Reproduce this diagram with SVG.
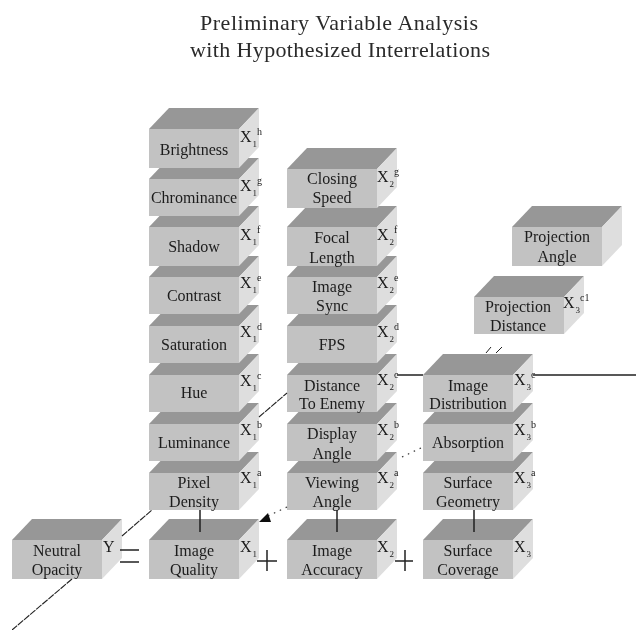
<svg xmlns="http://www.w3.org/2000/svg" xmlns:xlink="http://www.w3.org/1999/xlink" width="636" height="635" viewBox="0 0 636 635">
<style>
text{font-family:"Liberation Serif","Times New Roman",serif;fill:#1c1c1c}
.l{font-size:16px;text-anchor:middle}
.t{font-size:22px;text-anchor:middle;fill:#2a2a2a}
.x{font-size:16px}
.sub{font-size:9px}
.sup{font-size:10px}
.op{stroke:#222;stroke-width:1.5;fill:none}
.dash{stroke:#222;stroke-width:1.1;fill:none;stroke-dasharray:7 1}
.dot{stroke:#333;stroke-width:1.2;fill:none;stroke-dasharray:1.5 5}
.ln{stroke:#222;stroke-width:1.5;fill:none}
.sl{stroke:#222;stroke-width:1;fill:none}
.f{fill:#c2c2c2}.d{fill:#979797}.s{fill:#dedede}
</style>
<defs>
<g id="a"><rect class="f" width="90" height="37"/><polygon class="d" points="0,0 20,-21 110,-21 90,0"/><polygon class="s" points="90,0 110,-21 110,16 90,37"/></g>
<g id="b"><rect class="f" width="90" height="39"/><polygon class="d" points="0,0 20,-21 110,-21 90,0"/><polygon class="s" points="90,0 110,-21 110,18 90,39"/></g>
<filter id="soft" x="0" y="0" width="100%" height="100%"><feGaussianBlur stdDeviation="0.35"/></filter>
</defs>
<rect width="636" height="635" fill="#fff"/>
<g filter="url(#soft)">
<text class="t" x="339" y="30" textLength="278" lengthAdjust="spacing">Preliminary Variable Analysis</text>
<text class="t" x="340" y="57" textLength="300" lengthAdjust="spacing">with Hypothesized Interrelations</text>

<g id="pixel-density"><use xlink:href="#a" x="149" y="473"/><text class="l" x="194" y="488">Pixel</text><text class="l" x="194" y="507">Density</text><text class="x" x="240" y="483">X<tspan class="sub" dx="1" dy="5">1</tspan><tspan class="sup" dy="-12">a</tspan></text></g>
<g id="luminance"><use xlink:href="#a" x="149" y="424"/><text class="l" x="194" y="448">Luminance</text><text class="x" x="240" y="435">X<tspan class="sub" dx="1" dy="5">1</tspan><tspan class="sup" dy="-12">b</tspan></text></g>
<g id="hue"><use xlink:href="#a" x="149" y="375"/><text class="l" x="194" y="398">Hue</text><text class="x" x="240" y="386">X<tspan class="sub" dx="1" dy="5">1</tspan><tspan class="sup" dy="-12">c</tspan></text></g>
<g id="saturation"><use xlink:href="#a" x="149" y="326"/><text class="l" x="194" y="350">Saturation</text><text class="x" x="240" y="337">X<tspan class="sub" dx="1" dy="5">1</tspan><tspan class="sup" dy="-12">d</tspan></text></g>
<g id="contrast"><use xlink:href="#a" x="149" y="277"/><text class="l" x="194" y="301">Contrast</text><text class="x" x="240" y="288">X<tspan class="sub" dx="1" dy="5">1</tspan><tspan class="sup" dy="-12">e</tspan></text></g>
<g id="shadow"><use xlink:href="#b" x="149" y="227"/><text class="l" x="194" y="252">Shadow</text><text class="x" x="240" y="240">X<tspan class="sub" dx="1" dy="5">1</tspan><tspan class="sup" dy="-12">f</tspan></text></g>
<g id="chrominance"><use xlink:href="#a" x="149" y="179"/><text class="l" x="194" y="203">Chrominance</text><text class="x" x="240" y="191">X<tspan class="sub" dx="1" dy="5">1</tspan><tspan class="sup" dy="-12">g</tspan></text></g>
<g id="brightness"><use xlink:href="#b" x="149" y="129"/><text class="l" x="194" y="155">Brightness</text><text class="x" x="240" y="142">X<tspan class="sub" dx="1" dy="5">1</tspan><tspan class="sup" dy="-12">h</tspan></text></g>

<g id="viewing-angle"><use xlink:href="#a" x="287" y="473"/><text class="l" x="332" y="488">Viewing</text><text class="l" x="332" y="507">Angle</text><text class="x" x="377" y="483">X<tspan class="sub" dx="1" dy="5">2</tspan><tspan class="sup" dy="-12">a</tspan></text></g>
<g id="display-angle"><use xlink:href="#a" x="287" y="424"/><text class="l" x="332" y="439">Display</text><text class="l" x="332" y="459">Angle</text><text class="x" x="377" y="435">X<tspan class="sub" dx="1" dy="5">2</tspan><tspan class="sup" dy="-12">b</tspan></text></g>
<g id="distance-to-enemy"><use xlink:href="#a" x="287" y="375"/><text class="l" x="332" y="391">Distance</text><text class="l" x="332" y="409">To Enemy</text><text class="x" x="377" y="385">X<tspan class="sub" dx="1" dy="5">2</tspan><tspan class="sup" dy="-12">c</tspan></text></g>
<g id="fps"><use xlink:href="#a" x="287" y="326"/><text class="l" x="332" y="350">FPS</text><text class="x" x="377" y="337">X<tspan class="sub" dx="1" dy="5">2</tspan><tspan class="sup" dy="-12">d</tspan></text></g>
<g id="image-sync"><use xlink:href="#a" x="287" y="277"/><text class="l" x="332" y="292">Image</text><text class="l" x="332" y="311">Sync</text><text class="x" x="377" y="288">X<tspan class="sub" dx="1" dy="5">2</tspan><tspan class="sup" dy="-12">e</tspan></text></g>
<g id="focal-length"><use xlink:href="#b" x="287" y="227"/><text class="l" x="332" y="243">Focal</text><text class="l" x="332" y="263">Length</text><text class="x" x="377" y="240">X<tspan class="sub" dx="1" dy="5">2</tspan><tspan class="sup" dy="-12">f</tspan></text></g>
<g id="closing-speed"><use xlink:href="#b" x="287" y="169"/><text class="l" x="332" y="184">Closing</text><text class="l" x="332" y="203">Speed</text><text class="x" x="377" y="182">X<tspan class="sub" dx="1" dy="5">2</tspan><tspan class="sup" dy="-12">g</tspan></text></g>

<g id="surface-geometry"><use xlink:href="#a" x="423" y="473"/><text class="l" x="468" y="488">Surface</text><text class="l" x="468" y="507">Geometry</text><text class="x" x="514" y="483">X<tspan class="sub" dx="1" dy="5">3</tspan><tspan class="sup" dy="-12">a</tspan></text></g>
<g id="absorption"><use xlink:href="#a" x="423" y="424"/><text class="l" x="468" y="448">Absorption</text><text class="x" x="514" y="435">X<tspan class="sub" dx="1" dy="5">3</tspan><tspan class="sup" dy="-12">b</tspan></text></g>
<g id="image-distribution"><use xlink:href="#a" x="423" y="375"/><text class="l" x="468" y="391">Image</text><text class="l" x="468" y="409">Distribution</text><text class="x" x="514" y="385">X<tspan class="sub" dx="1" dy="5">3</tspan><tspan class="sup" dy="-12">c</tspan></text></g>
<g id="projection-distance"><use xlink:href="#a" x="474" y="297"/><text class="l" x="518" y="312">Projection</text><text class="l" x="518" y="331">Distance</text><text class="x" x="563" y="308">X<tspan class="sub" dx="1" dy="5">3</tspan><tspan class="sup" dy="-12">c1</tspan></text></g>
<g id="projection-angle"><use xlink:href="#b" x="512" y="227"/><text class="l" x="557" y="242">Projection</text><text class="l" x="557" y="262">Angle</text></g>

<g id="neutral-opacity"><use xlink:href="#b" x="12" y="540"/><text class="l" x="57" y="556">Neutral</text><text class="l" x="57" y="575">Opacity</text><text class="x" x="103" y="552">Y</text></g>
<g id="image-quality"><use xlink:href="#b" x="149" y="540"/><text class="l" x="194" y="556">Image</text><text class="l" x="194" y="575">Quality</text><text class="x" x="240" y="552">X<tspan class="sub" dx="1" dy="5">1</tspan></text></g>
<g id="image-accuracy"><use xlink:href="#b" x="287" y="540"/><text class="l" x="332" y="556">Image</text><text class="l" x="332" y="575">Accuracy</text><text class="x" x="377" y="552">X<tspan class="sub" dx="1" dy="5">2</tspan></text></g>
<g id="surface-coverage"><use xlink:href="#b" x="423" y="540"/><text class="l" x="468" y="556">Surface</text><text class="l" x="468" y="575">Coverage</text><text class="x" x="514" y="552">X<tspan class="sub" dx="1" dy="5">3</tspan></text></g>

<g id="connectors">
<path class="ln" d="M200 510V532M337 510V532M474 510V532"/>
<path class="dash" d="M122 536L152 510M259 417L287 393M72 579L12 630"/>
<path class="ln" d="M397 375H423M533 375H636"/>
<path class="dot" d="M402 457L423 447M287 507L268 516"/>
<polygon fill="#111" points="259,522 271,522 268,513"/>
<path class="sl" d="M486 353L491 347M496 353L502 347"/>
<path class="op" d="M120 550H139M120 562H139M257 561H277M267 550V571M395 561H413M405 550V571"/>
</g>
</g>
</svg>
